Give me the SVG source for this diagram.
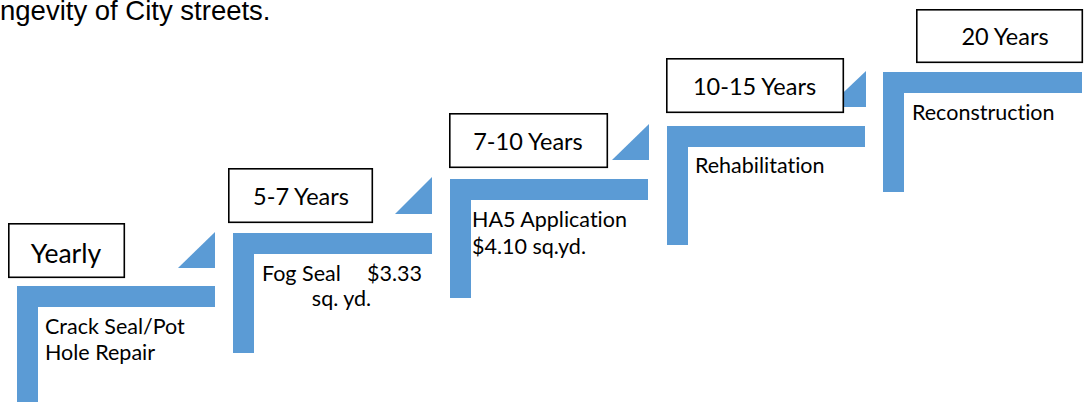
<svg xmlns="http://www.w3.org/2000/svg" width="1085" height="402" viewBox="0 0 1085 402">
<style>
.bar{fill:#5B9BD5}
.tri{fill:#5B9BD5}
.box{fill:#fff;stroke:#000;stroke-width:1.6}
.lbl{font-family:Lato,"Open Sans",sans-serif;font-size:23.5px;fill:#000;text-anchor:middle;font-variant-ligatures:none}
.body{font-family:Lato,"Open Sans",sans-serif;font-size:21.5px;fill:#000;font-variant-ligatures:none}
.head{font-family:"Liberation Sans",Arial,sans-serif;font-size:27.5px;fill:#000}
</style>
<rect width="1085" height="402" fill="#fff"/>
<text class="head" x="0" y="20">ngevity of City streets.</text>
<g id="connectors">
<polygon class="tri" points="178,268 215,268 215,232"/>
<polygon class="tri" points="395,214 432,214 432,177"/>
<polygon class="tri" points="612,160 649,160 649,124"/>
<polygon class="tri" points="828,107 866,107 866,71"/>
</g>
<g id="step1">
<path class="bar" d="M17,286 H215 V307 H38 V402 H17 Z"/>
<rect class="box" x="8.8" y="223.8" width="115.5" height="53.5"/>
<text class="lbl" x="66" y="263" style="font-size:26.5px">Yearly</text>
<text class="body" x="45" y="334">Crack Seal/Pot<tspan x="45" y="360">Hole Repair</tspan></text>
</g>
<g id="step2">
<path class="bar" d="M233,233 H432 V254 H254 V353 H233 Z"/>
<rect class="box" x="228.8" y="168.8" width="143.5" height="53.5"/>
<text class="lbl" x="301" y="205">5-7 Years</text>
<text class="body" x="262" y="281">Fog Seal<tspan x="422" text-anchor="end">$3.33</tspan><tspan x="341.5" y="306" text-anchor="middle">sq. yd.</tspan></text>
</g>
<g id="step3">
<path class="bar" d="M450,179 H648 V200 H471 V298 H450 Z"/>
<rect class="box" x="449.8" y="113.8" width="157.5" height="53.5"/>
<text class="lbl" x="528" y="150">7-10 Years</text>
<text class="body" x="472" y="227">HA5 Application<tspan x="472" y="254">$4.10 sq.yd.</tspan></text>
</g>
<g id="step4">
<path class="bar" d="M667,126 H865 V147 H688 V245 H667 Z"/>
<rect class="box" x="666.8" y="58.8" width="176.5" height="53.5"/>
<text class="lbl" x="754.5" y="95">10-15 Years</text>
<text class="body" x="695" y="173">Rehabilitation</text>
</g>
<g id="step5">
<path class="bar" d="M883,72 H1082 V93 H904 V192 H883 Z"/>
<rect class="box" x="916.8" y="9.8" width="165.5" height="52.5"/>
<text class="lbl" x="1005" y="45">20 Years</text>
<text class="body" x="912" y="120">Reconstruction</text>
</g>
</svg>
